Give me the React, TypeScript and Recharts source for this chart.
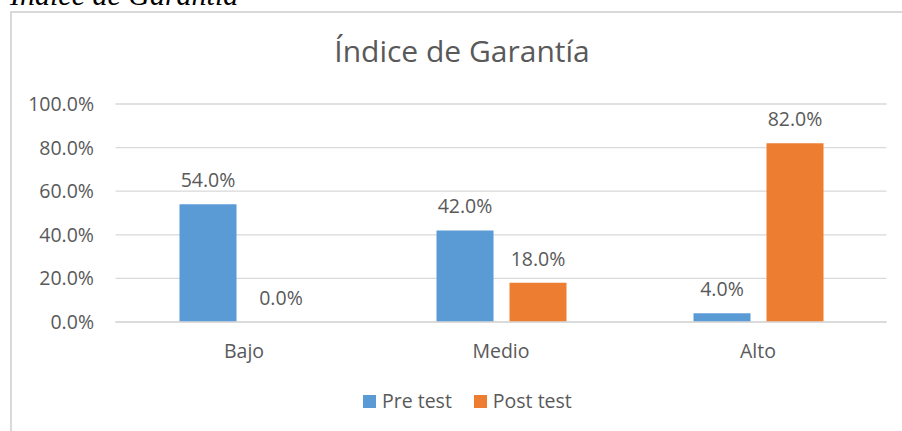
import React from "react";
import { BarChart, Bar, XAxis, YAxis, CartesianGrid, LabelList, Legend } from "recharts";

const categories = ["Bajo", "Medio", "Alto"];
const preTest = [0.54, 0.42, 0.04];
const postTest = [0.0, 0.18, 0.82];
const yTicks = [0, 0.2, 0.4, 0.6, 0.8, 1.0];
const seriesNames = ["Pre test", "Post test"];
const colors = ["#5B9BD5", "#ED7D31"];

const data = categories.map((c, i) => ({ name: c, pre: preTest[i], post: postTest[i] }));

const FONT = "'Open Sans', sans-serif";
const TXT = "#595959";
const pct = (v: number) => (Number(v) * 100).toFixed(1) + "%";

const renderLabel = (props: any) => {
  const { x, y, width, height, value } = props;
  if (x == null || y == null) return null;
  const top = Math.min(Number(y), Number(y) + Number(height || 0));
  return (
    <text
      x={Number(x) + Number(width || 0) / 2}
      y={top - 17}
      textAnchor="middle"
      fill={TXT}
      fontFamily={FONT}
      fontSize={19.5}
    >
      {pct(value)}
    </text>
  );
};

const tinyForZero = (value: any) => (Number(value) === 0 ? 0.01 : 0);

const LegendContent = () => (
  <div style={{ display: "flex", alignItems: "center", paddingLeft: 363, fontFamily: FONT, fontSize: 19.5, color: TXT, lineHeight: "26px" }}>
    {seriesNames.map((n, i) => (
      <div key={n} style={{ display: "flex", alignItems: "center", marginRight: 22 }}>
        <div style={{ width: 13, height: 13, background: colors[i], marginRight: 6 }} />
        <span>{n}</span>
      </div>
    ))}
  </div>
);

export default function App() {
  return (
    <div style={{ position: "fixed", left: 0, top: 0, width: 902, height: 431, overflow: "hidden", background: "#fff" }}>
      <svg width={902} height={40} style={{ position: "absolute", left: 0, top: 0 }}>
        <text x={10} y={4.5} fontFamily="'Liberation Serif', serif" fontStyle="italic" fontSize={30} fill="#000">
          Índice de Garantía
        </text>
      </svg>
      <div style={{ position: "absolute", left: 10, top: 11, width: 1000, height: 500, border: "2px solid #d9d9d9", boxSizing: "border-box" }} />
      <svg width={902} height={100} style={{ position: "absolute", left: 0, top: 0 }}>
        <text x={462} y={62} textAnchor="middle" fontFamily={FONT} fontSize={30} fill={TXT}>
          Índice de Garantía
        </text>
      </svg>
      <div style={{ position: "absolute", left: 0, top: 0 }}>
        <BarChart
          width={902}
          height={431}
          data={data}
          margin={{ top: 104, right: 15.5, left: 0, bottom: 49 }}
          barSize={57}
          barGap={16}
        >
          <CartesianGrid vertical={false} stroke="#d9d9d9" strokeWidth={1.3} />
          <XAxis
            dataKey="name"
            axisLine={{ stroke: "#d9d9d9", strokeWidth: 1.3 }}
            tickLine={false}
            tickSize={0}
            tickMargin={22}
            height={60}
            tick={{ fill: TXT, fontFamily: FONT, fontSize: 19.5 }}
          />
          <YAxis
            width={115.5}
            domain={[0, 1]}
            ticks={yTicks}
            axisLine={false}
            tickLine={false}
            tickSize={0}
            tickMargin={21.5}
            tickFormatter={pct}
            tick={{ fill: TXT, fontFamily: FONT, fontSize: 19.5 }}
          />
          <Legend verticalAlign="middle" wrapperStyle={{ top: 388, left: 0, width: 902 }} content={<LegendContent />} />
          <Bar dataKey="pre" name={seriesNames[0]} fill={colors[0]} isAnimationActive={false}>
            <LabelList dataKey="pre" content={renderLabel} />
          </Bar>
          <Bar dataKey="post" name={seriesNames[1]} fill={colors[1]} minPointSize={tinyForZero} isAnimationActive={false}>
            <LabelList dataKey="post" content={renderLabel} />
          </Bar>
        </BarChart>
      </div>
    </div>
  );
}
